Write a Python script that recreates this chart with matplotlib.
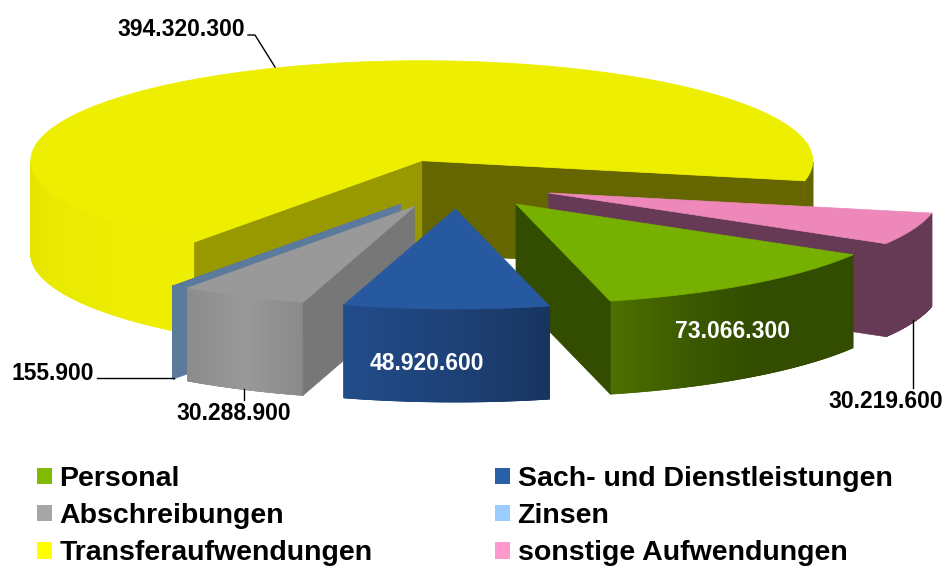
import numpy as np
import matplotlib
matplotlib.use("Agg")
import matplotlib.pyplot as plt
from matplotlib.collections import PolyCollection
from matplotlib.colors import to_rgb
from matplotlib.patches import Patch, Polygon

plt.rcParams['font.family'] = ['Liberation Sans', 'DejaVu Sans']

# Chart data, in legend order
categories = ["Personal", "Sach- und Dienstleistungen", "Abschreibungen",
              "Zinsen", "Transferaufwendungen", "sonstige Aufwendungen"]
values = [73066300, 48920600, 30288900, 155900, 394320300, 30219600]
legend_colors = ["#80BB00", "#2860A8", "#A6A6A6", "#99CCFF", "#FFFF00", "#FF99CC"]

# Slices run clockwise from here
slice_order = [5, 0, 1, 2, 3, 4]
start_angle = -11.6
explode = 0.25

# Pie geometry in pixels
cx, cy = 457.5, 184
rx, ry = 391, 100
depth = 93

# Colours per slice: top, first radial wall, second radial wall, arc wall stops
top_colors = ["#76B000", "#26599F", "#999999", "#5B7A9C", "#EEEE00", "#EE88BB"]
start_wall = ["#334D00", "#214A86", "#777777", "#5B7A9C", "#666600", "#663A55"]
end_wall = ["#334D00", "#214A86", "#777777", "#5B7A9C", "#989800", "#663A55"]
arc_stops = [[(0, "#4D7000"), (0.35, "#3A5800"), (0.6, "#334D00"), (1, "#334D00")],
             [(0, "#224C8A"), (0.5, "#1E4279"), (1, "#18355F")],
             [(0, "#8C8C8C"), (0.5, "#999999"), (1, "#8A8A8A")],
             [(0, "#5B7A9C"), (1, "#5B7A9C")],
             [(0, "#E4E400"), (0.03, "#EAEA00"), (0.15, "#EEEE00"), (0.96, "#EAEA00"), (0.965, "#666600"), (1, "#666600")],
             [(0, "#663A55"), (1, "#663A55")]]


def point(center, theta):
    return center[0] + rx * np.cos(theta), center[1] - ry * np.sin(theta)


def arc_walls(ax, center, a, b, stops):
    # only the part of the rim facing the viewer, cut in strips for the shading
    angles = np.linspace(a, b, 400)
    angles = angles[np.sin(angles) < 0]
    if len(angles) < 2:
        return
    xs, ys = point(center, angles)
    pos = [s[0] for s in stops]
    stop_rgb = np.array([to_rgb(s[1]) for s in stops])
    t = (xs - xs.min()) / max(xs.max() - xs.min(), 1)
    rgb = np.column_stack([np.interp(t, pos, stop_rgb[:, i]) for i in range(3)])
    polys = []
    colors = []
    for i in range(len(xs) - 1):
        # the rim can wrap round the back of the pie, skip that jump
        if abs(xs[i + 1] - xs[i]) > 50:
            continue
        polys.append([(xs[i], ys[i]), (xs[i + 1], ys[i + 1]),
                      (xs[i + 1], ys[i + 1] + depth), (xs[i], ys[i] + depth)])
        colors.append(rgb[i])
    ax.add_collection(PolyCollection(polys, facecolors=colors, edgecolors=colors,
                                     linewidths=0.6))


def radial_wall(ax, center, theta, color):
    x, y = point(center, theta)
    ax.add_patch(Polygon([center, (x, y), (x, y + depth), (center[0], center[1] + depth)],
                         closed=True, facecolor=color, edgecolor=color, linewidth=0.5))


def draw_slice(ax, center, a, b, idx):
    arc_walls(ax, center, a, b, arc_stops[idx])
    if np.sin(a - np.pi / 2) < 0:
        radial_wall(ax, center, a, start_wall[idx])
    if np.sin(b + np.pi / 2) < 0:
        radial_wall(ax, center, b, end_wall[idx])
    angles = np.linspace(a, b, 300)
    xs, ys = point(center, angles)
    ax.add_patch(Polygon([center] + list(zip(xs, ys)), closed=True,
                         facecolor=top_colors[idx], edgecolor=top_colors[idx], linewidth=0.5))


def german(v):
    return f"{v:,}".replace(",", ".")


fig = plt.figure(figsize=(9.45, 5.68), dpi=100)
ax = fig.add_axes([0, 0, 1, 1])
ax.set_xlim(0, 945)
ax.set_ylim(568, 0)
ax.axis("off")

# Work out the slice angles from the values
total = sum(values)
spans = {}
angle = np.radians(start_angle)
for idx in slice_order:
    sweep = 2 * np.pi * values[idx] / total
    spans[idx] = (angle - sweep, angle)
    angle -= sweep

# Back to front
for idx in [4, 3, 2, 5, 0, 1]:
    a, b = spans[idx]
    mid = (a + b) / 2
    center = (cx + explode * rx * np.cos(mid), cy - explode * ry * np.sin(mid))
    draw_slice(ax, center, a, b, idx)

# Value labels
label_style = dict(fontsize=16.5, fontweight="bold", va="center")
ax.text(245, 29, german(values[4]), ha="right", color="black", **label_style)
ax.plot([248, 255, 275], [35, 35, 67], color="black", lw=1)
ax.text(94, 373, german(values[3]), ha="right", color="black", **label_style)
ax.plot([97, 174], [378, 378], color="black", lw=1)
ax.text(233.5, 413, german(values[2]), ha="center", color="black", **label_style)
ax.plot([244, 244], [389, 400], color="black", lw=1)
ax.text(886, 401.5, german(values[5]), ha="center", color="black", **label_style)
ax.plot([913, 913], [320, 388], color="black", lw=1)
ax.text(427, 363.5, german(values[1]), ha="center", color="white", **label_style)
ax.text(733, 332, german(values[0]), ha="center", color="white", **label_style)

# Legend, filled column by column
order = [0, 2, 4, 1, 3, 5]
handles = [Patch(facecolor=legend_colors[i], label=categories[i]) for i in order]
ax.legend(handles=handles, ncol=2, loc="upper left", bbox_to_anchor=(37, 466),
          bbox_transform=ax.transData, frameon=False, borderpad=0, borderaxespad=0,
          prop=dict(size=20.5, weight="bold"), handlelength=0.53, handleheight=0.53,
          handletextpad=0.26, labelspacing=0.39, columnspacing=4.3)

plt.savefig("out.png", dpi=100)
